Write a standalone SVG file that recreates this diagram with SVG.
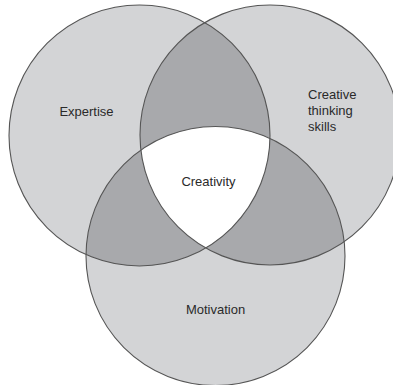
<svg xmlns="http://www.w3.org/2000/svg" width="393" height="385" viewBox="0 0 393 385">
<style>
.fill{fill:#d3d4d6;stroke:none}
.dark{fill:#a8a9ac;stroke:none}
.core{fill:#ffffff;stroke:none}
.ring{fill:none;stroke:#555555;stroke-width:1.1}
text{font-family:"Liberation Sans",Arial,sans-serif;font-size:13px;fill:#2a2a2a}
</style>
<defs>
<clipPath id="cE"><circle cx="139.5" cy="135.5" r="130.5"/></clipPath>
<clipPath id="cC"><circle cx="270" cy="135" r="130"/></clipPath>
<clipPath id="cM"><circle cx="215.5" cy="256" r="129.5"/></clipPath>
</defs>
<rect width="393" height="385" fill="#ffffff"/>
<g id="expertise">
<circle class="fill" cx="139.5" cy="135.5" r="130.5"/>
</g>
<g id="creative-thinking-skills">
<circle class="fill" cx="270" cy="135" r="130"/>
</g>
<g id="motivation">
<circle class="fill" cx="215.5" cy="256" r="129.5"/>
</g>
<g id="overlaps">
<g clip-path="url(#cE)"><circle class="dark" cx="270" cy="135" r="130"/></g>
<g clip-path="url(#cE)"><circle class="dark" cx="215.5" cy="256" r="129.5"/></g>
<g clip-path="url(#cC)"><circle class="dark" cx="215.5" cy="256" r="129.5"/></g>
<g clip-path="url(#cE)"><g clip-path="url(#cC)"><circle class="core" cx="215.5" cy="256" r="129.5"/></g></g>
</g>
<g id="outlines">
<circle class="ring" cx="139.5" cy="135.5" r="130.5"/>
<circle class="ring" cx="270" cy="135" r="130"/>
<circle class="ring" cx="215.5" cy="256" r="129.5"/>
</g>
<g id="labels">
<text x="86.5" y="115.5" text-anchor="middle">Expertise</text>
<text x="308" y="99">Creative</text>
<text x="308" y="115">thinking</text>
<text x="308" y="131">skills</text>
<text id="creativity" x="208.5" y="185.5" text-anchor="middle">Creativity</text>
<text x="215.5" y="314" text-anchor="middle">Motivation</text>
</g>
</svg>
